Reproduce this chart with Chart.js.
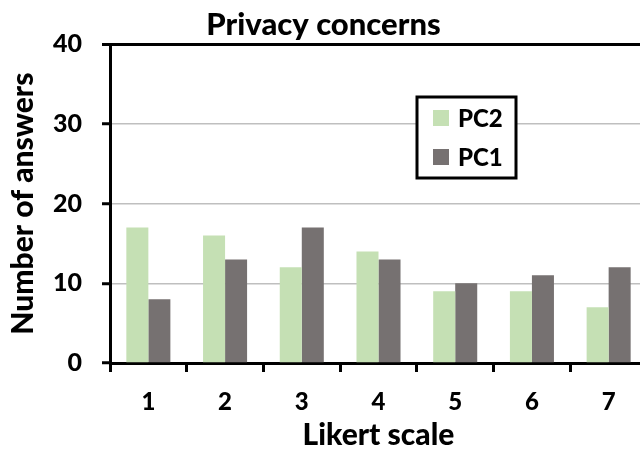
<!DOCTYPE html>
<html>
<head>
<meta charset="utf-8">
<script src="https://cdn.jsdelivr.net/npm/chart.js@4/dist/chart.umd.min.js"></script>
<style>
    html, body { margin: 0; padding: 0; background: #fff; overflow: hidden; }
    #wrap { width: 650px; height: 454px; }
</style>
</head>
<body>
<div id="wrap"><canvas id="privacy"></canvas></div>
<script>
const likert = ["1", "2", "3", "4", "5", "6", "7"];
const pc2 = [17, 16, 12, 14, 9, 9, 7];
const pc1 = [8, 13, 17, 13, 10, 11, 12];
const yTicks = [0, 10, 20, 30, 40];

const FONT = "Lato, 'Open Sans', sans-serif";
const WEIGHT = "900";

// boxed legend sitting inside the plot, like the spreadsheet original
const boxLegend = {
    id: "boxLegend",
    afterDraw(chart) {
        const ctx = chart.ctx;
        const x = 417, y = 97, w = 99, h = 81;
        ctx.save();
        ctx.fillStyle = "#fff";
        ctx.fillRect(x, y, w, h);
        ctx.strokeStyle = "#000";
        ctx.lineWidth = 3;
        ctx.strokeRect(x, y, w, h);
        ctx.font = WEIGHT + " 24px " + FONT;
        ctx.textBaseline = "middle";
        chart.data.datasets.forEach((ds, i) => {
            const cy = y + 21 + i * 39;
            ctx.fillStyle = ds.backgroundColor;
            ctx.fillRect(x + 16, cy - 8, 16, 16);
            ctx.fillStyle = "#000";
            ctx.fillText(ds.label, x + 41, cy + 1);
        });
        ctx.restore();
    },
};

new Chart(document.querySelector("#privacy"), {
    type: "bar",
    data: {
        labels: likert,
        datasets: [
            {
                label: "PC2",
                data: pc2,
                backgroundColor: "#C5E0B4",
            },
            {
                label: "PC1",
                data: pc1,
                backgroundColor: "#767171",
            },
        ],
    },
    options: {
        responsive: true,
        maintainAspectRatio: false,
        animation: false,
        categoryPercentage: 0.574,
        barPercentage: 1,
        layout: { padding: { right: 3 } },
        plugins: {
            legend: { display: false },
            tooltip: { enabled: false },
            title: {
                display: true,
                text: "Privacy concerns",
                color: "#000",
                font: { family: FONT, size: 31, weight: WEIGHT },
                padding: { top: 6, bottom: 1 },
            },
        },
        scales: {
            x: {
                afterFit: (scale) => { scale.height = 91; },
                border: { color: "#000", width: 3 },
                grid: {
                    drawOnChartArea: false,
                    tickLength: 9,
                    tickColor: "#000",
                    tickWidth: 3,
                },
                ticks: {
                    color: "#000",
                    padding: 16,
                    font: { family: FONT, size: 24, weight: WEIGHT },
                },
                title: {
                    display: true,
                    text: "Likert scale",
                    color: "#000",
                    font: { family: FONT, size: 30, weight: WEIGHT },
                    padding: { top: 0, bottom: 1 },
                },
            },
            y: {
                min: 0,
                max: 40,
                afterFit: (scale) => { scale.width = 110; },
                afterBuildTicks: (scale) => {
                    scale.ticks = yTicks.map((v) => ({ value: v }));
                },
                border: { color: "#000", width: 3 },
                grid: {
                    color: (c) => (c.tick && c.tick.value === 40 ? "#000" : "#BFBFBF"),
                    lineWidth: (c) => (c.tick && c.tick.value === 40 ? 3 : 1.5),
                    tickLength: 8,
                    tickColor: "#000",
                    tickWidth: 3,
                },
                ticks: {
                    color: "#000",
                    padding: 20,
                    font: { family: FONT, size: 25, weight: WEIGHT },
                },
                title: {
                    display: true,
                    text: "Number of answers",
                    color: "#000",
                    font: { family: FONT, size: 30, weight: WEIGHT },
                    padding: { top: 5, bottom: 5 },
                },
            },
        },
    },
    plugins: [boxLegend],
});
</script>
</body>
</html>
